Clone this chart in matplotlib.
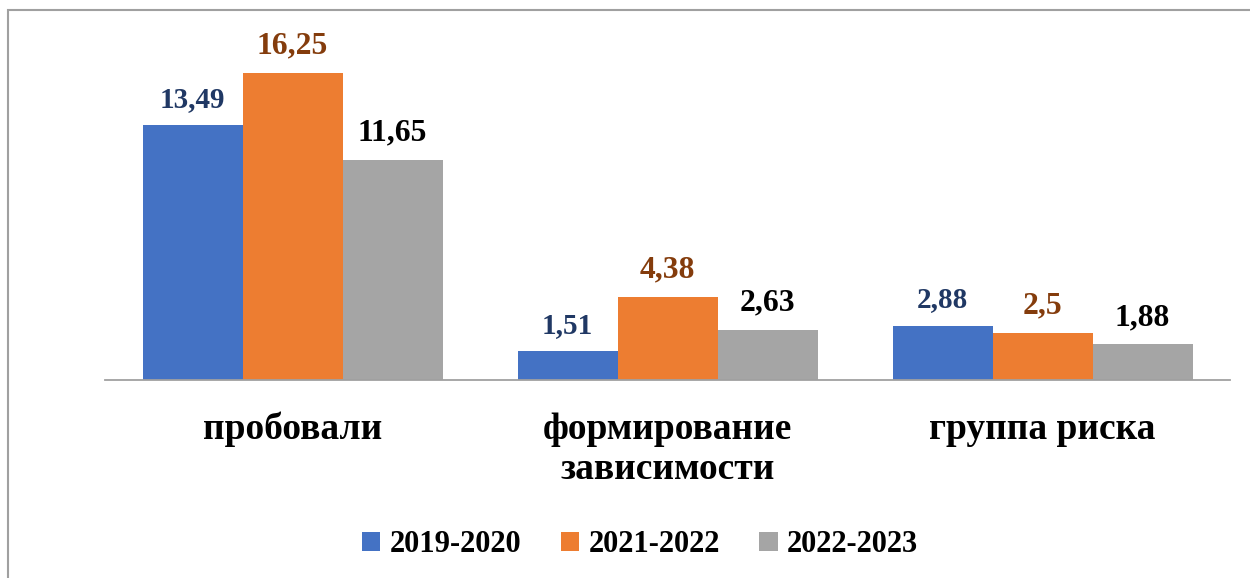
import matplotlib
matplotlib.use("Agg")
import matplotlib.pyplot as plt
import numpy as np
from matplotlib.patches import Rectangle

categories = ["пробовали", "формирование\nзависимости", "группа риска"]
series_names = ["2019-2020", "2021-2022", "2022-2023"]
values_2019 = [13.49, 1.51, 2.88]
values_2021 = [16.25, 4.38, 2.5]
values_2022 = [11.65, 2.63, 1.88]
labels_2019 = ["13,49", "1,51", "2,88"]
labels_2021 = ["16,25", "4,38", "2,5"]
labels_2022 = ["11,65", "2,63", "1,88"]

colors = ["#4472C4", "#ED7D31", "#A5A5A5"]
label_colors = ["#203864", "#843C0C", "#000000"]
label_sizes = [21, 22.8, 22.8]

plt.rcParams['font.family'] = ['Liberation Serif', 'DejaVu Serif']

W, H = 1250, 578
fig = plt.figure(figsize=(W / 100, H / 100), dpi=100)
fig.patch.set_facecolor("white")

# chart border
fig.add_artist(Rectangle((8 / W, -0.01), 1.5, 1 - 10 / H + 0.01, transform=fig.transFigure,
                         fill=False, edgecolor="#A0A0A0", linewidth=1.5))

ax = fig.add_axes([105 / W, 1 - 380 / H, (1230 - 105) / W, (380 - 40) / H])
ax.set_xlim(-0.5, 2.5)
ax.set_ylim(0, 18)

x = np.arange(len(categories))
bw = 0.8 / 3
all_vals = [values_2019, values_2021, values_2022]
all_labels = [labels_2019, labels_2021, labels_2022]
for i, (vals, labs) in enumerate(zip(all_vals, all_labels)):
    pos = x + (i - 1) * bw
    bars = ax.bar(pos, vals, width=bw, color=colors[i], label=series_names[i], zorder=2)
    for b, lab in zip(bars, labs):
        ax.annotate(lab, (b.get_x() + b.get_width() / 2, b.get_height()),
                    xytext=(0, 9), textcoords="offset points", ha="center", va="bottom",
                    fontsize=label_sizes[i], fontweight="bold", color=label_colors[i])

for s in ["top", "right", "left"]:
    ax.spines[s].set_visible(False)
ax.spines["bottom"].set_color("#A0A0A0")
ax.spines["bottom"].set_linewidth(1.3)
ax.set_yticks([])
ax.set_xticks(x)
ax.set_xticklabels(categories, fontsize=27, fontweight="bold", va="top", linespacing=1.17)
ax.tick_params(axis="x", length=0, pad=23)

leg = fig.legend(loc="center", bbox_to_anchor=(640 / W, 1 - 545 / H), ncol=3, frameon=False,
                 prop={"size": 22, "weight": "bold"}, handlelength=0.6, handleheight=0.6,
                 handletextpad=0.3, columnspacing=1.3)

fig.savefig("out.png", dpi=100, facecolor="white")
